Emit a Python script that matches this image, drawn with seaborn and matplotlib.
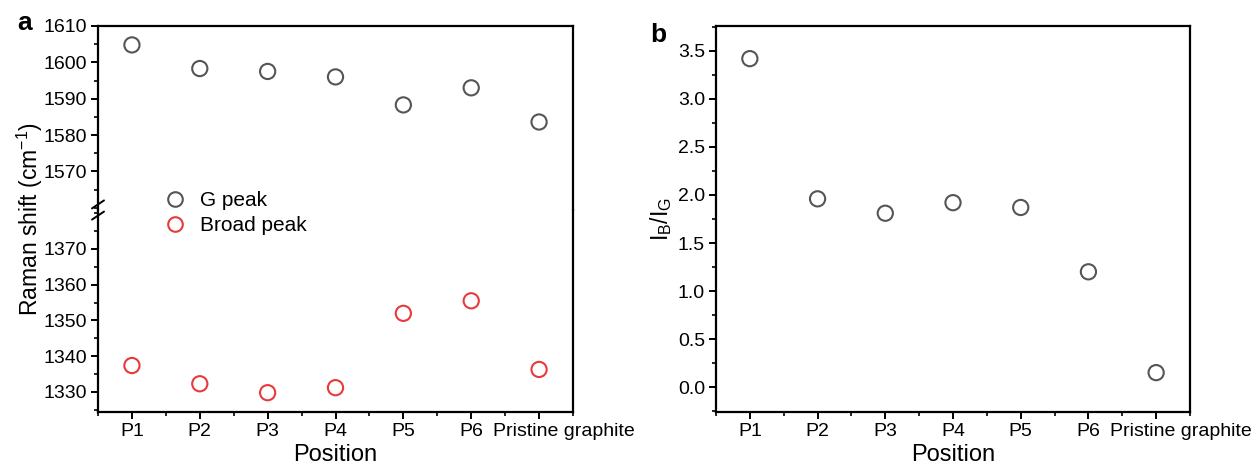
import matplotlib
matplotlib.use("Agg")
import matplotlib.pyplot as plt
from matplotlib.ticker import MultipleLocator
from matplotlib.lines import Line2D
from matplotlib.transforms import ScaledTranslation
import seaborn as sns
import pandas as pd

sns.set_theme(style="white")
plt.rcParams['font.family'] = ['Liberation Sans', 'DejaVu Sans']
plt.rcParams['mathtext.fontset'] = 'custom'
plt.rcParams['mathtext.rm'] = 'Liberation Sans'
plt.rcParams['mathtext.it'] = 'Liberation Sans:italic'
plt.rcParams['text.color'] = 'black'
plt.rcParams['axes.labelcolor'] = 'black'
plt.rcParams['xtick.color'] = 'black'
plt.rcParams['ytick.color'] = 'black'

positions = ["P1", "P2", "P3", "P4", "P5", "P6", "Pristine graphite"]
g_peak = [1604.8, 1598.3, 1597.5, 1596.0, 1588.3, 1593.0, 1583.6]
broad_peak = [1337.4, 1332.3, 1329.8, 1331.2, 1352.0, 1355.5, 1336.3]
ib_ig = [3.42, 1.96, 1.81, 1.92, 1.87, 1.20, 0.15]

xpos = list(range(1, len(positions) + 1))
df = pd.DataFrame({"x": xpos, "g": g_peak, "b": broad_peak, "r": ib_ig})

GRAY = "#555555"
RED = "#e8393c"
W, H = 1257, 466
fig = plt.figure(figsize=(W / 100, H / 100), dpi=100)

def fr(x0, y0, x1, y1):
    return [x0 / W, 1 - y1 / H, (x1 - x0) / W, (y1 - y0) / H]

ax_top = fig.add_axes(fr(98, 26, 573, 210))
ax_bot = fig.add_axes(fr(98, 210, 573, 412))
ax_r = fig.add_axes(fr(716, 26, 1190, 412))

mk = dict(marker="o", s=120, facecolors="none", linewidth=1.5, legend=False)
sns.scatterplot(data=df, x="x", y="g", ax=ax_top, edgecolor=GRAY, **mk)
sns.scatterplot(data=df, x="x", y="b", ax=ax_bot, edgecolor=RED, **mk)
sns.scatterplot(data=df, x="x", y="r", ax=ax_r, edgecolor=GRAY, **mk)

ax_top.set_ylim(1559.4, 1610)
ax_bot.set_ylim(1324.4, 1380.9)
ax_r.set_ylim(-0.26, 3.76)

for ax in (ax_top, ax_bot, ax_r):
    ax.set_xlim(0.5, 7.5)
    for s in ax.spines.values():
        s.set_linewidth(1.6)
        s.set_color("black")
    ax.tick_params(axis="both", which="major", direction="out", length=5, width=1.4,
                   labelsize=14, color="black", labelcolor="black",
                   left=True, bottom=True, pad=3)
    ax.tick_params(axis="both", which="minor", direction="out", length=3, width=1.2,
                   color="black", left=True, bottom=True)
    ax.set_xlabel("")
    ax.set_ylabel("")

ax_top.spines["bottom"].set_visible(False)
ax_bot.spines["top"].set_visible(False)
ax_top.tick_params(axis="x", which="both", bottom=False, labelbottom=False)

ax_top.set_yticks([1570, 1580, 1590, 1600, 1610])
ax_top.yaxis.set_minor_locator(MultipleLocator(5))
ax_bot.set_yticks([1330, 1340, 1350, 1360, 1370])
ax_bot.yaxis.set_minor_locator(MultipleLocator(5))
rt = [0.0, 0.5, 1.0, 1.5, 2.0, 2.5, 3.0, 3.5]
ax_r.set_yticks(rt)
ax_r.set_yticklabels([f"{v:.1f}" for v in rt])
ax_r.yaxis.set_minor_locator(MultipleLocator(0.25))

for ax in (ax_bot, ax_r):
    ax.set_xticks(xpos)
    ax.set_xticklabels(positions)
    ax.xaxis.set_minor_locator(MultipleLocator(0.5))
    ax.set_xlabel("Position", fontsize=17, labelpad=3)
    lab = ax.get_xticklabels()[-1]
    lab.set_transform(lab.get_transform() + ScaledTranslation(0.25, 0, fig.dpi_scale_trans))

# axis break marks on left spine
for dy in (-0.012, 0.012):
    fig.add_artist(Line2D([(98 - 6) / W, (98 + 6) / W],
                          [1 - (210 + 4) / H + dy, 1 - (210 - 4) / H + dy],
                          color="black", linewidth=1.4))

fig.text(30 / W, 1 - 219 / H, "Raman shift (cm$^{-1}$)", rotation=90, fontsize=16.5,
         ha="center", va="center")
ax_r.set_ylabel(r"I$_\mathregular{B}$/I$_\mathregular{G}$", fontsize=16.5, labelpad=3)

fig.text(17 / W, 1 - 23 / H, "a", fontsize=19, fontweight="bold", ha="left", va="center")
fig.text(650 / W, 1 - 35 / H, "b", fontsize=19, fontweight="bold", ha="left", va="center")

handles = [Line2D([], [], marker="o", linestyle="none", markersize=10.5, markerfacecolor="none",
                  markeredgecolor=GRAY, markeredgewidth=1.5),
           Line2D([], [], marker="o", linestyle="none", markersize=10.5, markerfacecolor="none",
                  markeredgecolor=RED, markeredgewidth=1.5)]
fig.legend(handles, ["G peak", "Broad peak"], loc="center left",
           bbox_to_anchor=(154 / W, 1 - 213 / H), frameon=False, fontsize=15,
           handletextpad=0.7, labelspacing=0.3, handlelength=1.0, borderpad=0)

fig.savefig("out.png", dpi=100, facecolor="white")
